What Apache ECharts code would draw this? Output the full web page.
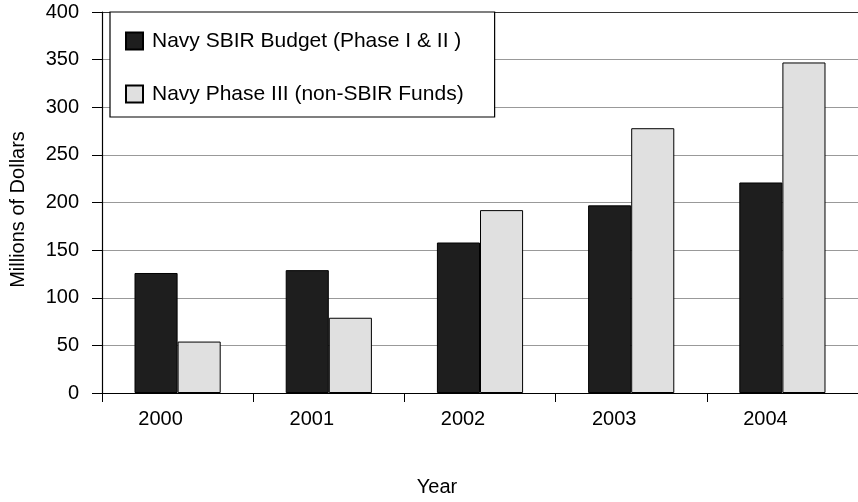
<!DOCTYPE html>
<html>
<head>
<meta charset="utf-8">
<script src="https://cdn.jsdelivr.net/npm/echarts@6/dist/echarts.min.js"></script>
<style>
html,body{margin:0;padding:0;background:#fff;}
#chart{width:858px;height:502px;}
</style>
</head>
<body>
<div id="chart"></div>
<script>
const years = ['2000', '2001', '2002', '2003', '2004'];
const sbirBudget = [126, 129, 158, 197, 221];
const phaseThree = [54, 79, 192, 278, 347];
const seriesNames = ['Navy SBIR Budget (Phase I & II )', 'Navy Phase III (non-SBIR Funds)'];
const yTicks = { min: 0, max: 400, interval: 50 };

const font = 'Liberation Sans, Arial, Helvetica, sans-serif';
const chart = echarts.init(document.getElementById('chart'), null, { renderer: 'canvas' });

const gridColors = ['#999', '#999', '#999', '#999', '#999', '#999', '#999', '#999', '#333'];

chart.setOption({
  animation: false,
  backgroundColor: '#fff',
  textStyle: { fontFamily: font, color: '#000' },
  grid: { left: 101, top: 12, width: 760, height: 383.5, containLabel: false },
  legend: {
    orient: 'vertical',
    left: 110,
    top: 12,
    padding: [17, 31, 11, 15],
    itemGap: 29,
    itemWidth: 17,
    itemHeight: 17,
    icon: 'rect',
    backgroundColor: '#fff',
    borderColor: '#000',
    borderWidth: 1.2,
    textStyle: { fontFamily: font, fontSize: 21, color: '#000', lineHeight: 24, padding: [0, 0, 0, 4] },
    data: seriesNames
  },
  xAxis: {
    type: 'category',
    data: years,
    name: 'Year',
    nameLocation: 'middle',
    nameGap: 84,
    nameTextStyle: { fontFamily: font, fontSize: 20, color: '#000', verticalAlign: 'top', padding: [0, 86, 0, 0] },
    axisLine: { show: true, lineStyle: { color: '#000', width: 1.2 } },
    axisTick: { show: true, alignWithLabel: false, length: 9, lineStyle: { color: '#000', width: 1 } },
    axisLabel: { fontFamily: font, fontSize: 20, color: '#000', margin: 16, padding: [0, 34, 0, 0] },
    splitLine: { show: false }
  },
  yAxis: {
    type: 'value',
    min: yTicks.min,
    max: yTicks.max,
    interval: yTicks.interval,
    name: 'Millions of Dollars',
    nameLocation: 'middle',
    nameGap: 74,
    nameRotate: 90,
    nameTextStyle: { fontFamily: font, fontSize: 20, color: '#000', padding: [0, 14, 0, 0] },
    axisLine: { show: true, lineStyle: { color: '#000', width: 1.2 } },
    axisTick: { show: true, length: 10, lineStyle: { color: '#000', width: 1 } },
    axisLabel: { fontFamily: font, fontSize: 20, color: '#000', margin: 23 },
    splitLine: { show: true, lineStyle: { color: gridColors, width: 1.2 } }
  },
  series: [
    {
      name: seriesNames[0],
      type: 'bar',
      data: sbirBudget,
      barGap: '0%',
      barCategoryGap: '43%',
      itemStyle: { color: '#1e1e1e', borderColor: '#000', borderWidth: 1 }
    },
    {
      name: seriesNames[1],
      type: 'bar',
      data: phaseThree,
      barGap: '0%',
      barCategoryGap: '43%',
      itemStyle: { color: '#e0e0e0', borderColor: '#000', borderWidth: 1 }
    }
  ]
});
</script>
</body>
</html>
